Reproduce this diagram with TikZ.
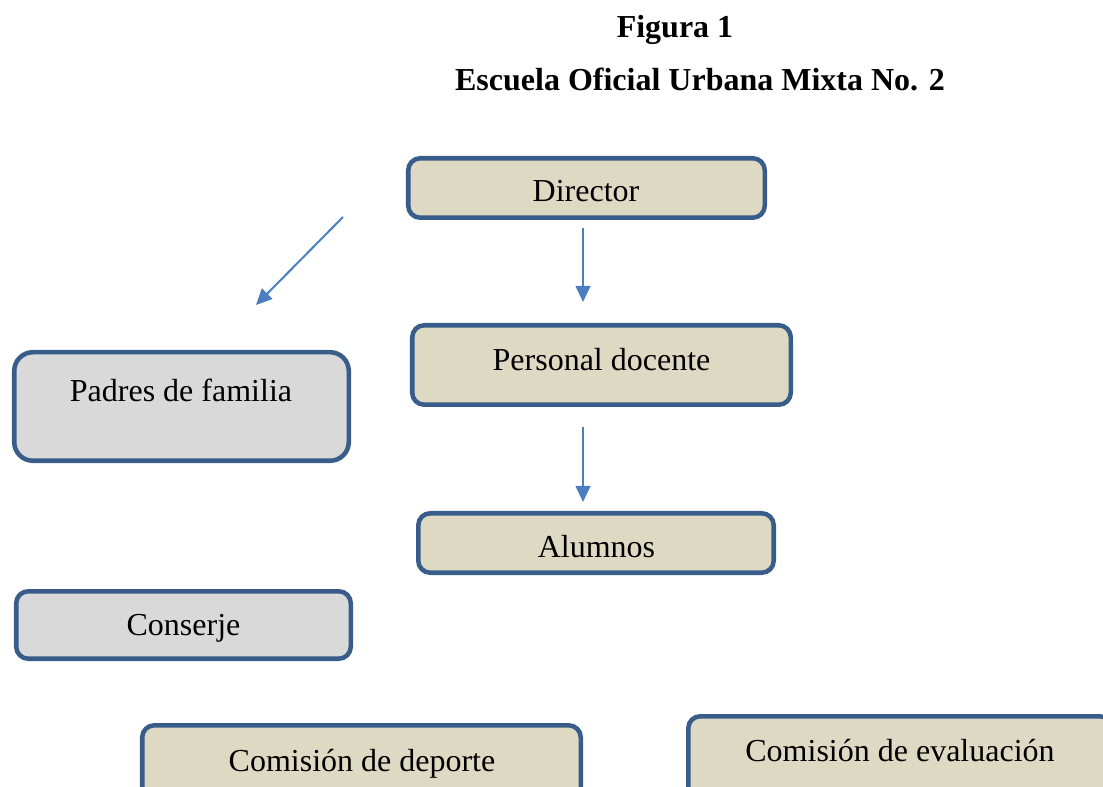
\documentclass[tikz,border=0pt]{standalone}
\usepackage{fontspec}
\setmainfont{Liberation Serif}
\usetikzlibrary{arrows.meta}
\definecolor{bordc}{RGB}{56,93,138}
\definecolor{tanfill}{RGB}{221,217,195}
\definecolor{grayfill}{RGB}{217,217,217}
\definecolor{arrc}{RGB}{74,126,193}
\tikzset{
  orgbox/.style={draw=bordc, line width=3.4pt, rounded corners=9pt, inner sep=0pt},
  tanbox/.style={orgbox, fill=tanfill},
  graybox/.style={orgbox, fill=grayfill},
  lbl/.style={anchor=base, inner sep=0pt, font=\fontsize{24}{28}\selectfont},
  ttl/.style={anchor=base, inner sep=0pt, font=\fontsize{24}{28}\selectfont\bfseries},
  conn/.style={draw=arrc, line width=1.5pt, -{Triangle[length=12pt,width=11pt]}}
}
\begin{document}
\begin{tikzpicture}[x=0.75pt,y=-0.75pt]
\useasboundingbox (0,0) rectangle (1103,787);
% titles
\node[ttl] (fig) at (675,38) {Figura 1};
\node[ttl] (esc) at (700,91) {Escuela Oficial Urbana Mixta No. 2};
% boxes
\node[tanbox, minimum width=267.4pt, minimum height=44.6pt] (dir) at (586.5,188) {};
\node[tanbox, minimum width=283.9pt, minimum height=59.6pt] (doc) at (601.5,365) {};
\node[graybox, minimum width=250.9pt, minimum height=81.4pt, rounded corners=14pt] (pad) at (181.5,406.5) {};
\node[tanbox, minimum width=266.6pt, minimum height=44.6pt] (alu) at (596,543) {};
\node[graybox, minimum width=250.9pt, minimum height=50.6pt] (con) at (183.5,625) {};
\node[tanbox, minimum width=328.9pt, minimum height=58pt] (dep) at (361.5,764) {};
\node[tanbox, minimum width=317.6pt, minimum height=65.6pt] (eva) at (900,760) {};
% labels
\node[lbl] (dirT) at (586,202) {Director};
\node[lbl] (docT) at (601.5,371) {Personal docente};
\node[lbl] (padT) at (181,402) {Padres de familia};
\node[lbl] (aluT) at (596.5,557) {Alumnos};
\node[lbl] (conT) at (183.5,635) {Conserje};
\node[lbl] (depT) at (362,771) {Comisión de deporte};
\node[lbl] (evaT) at (900,761) {Comisión de evaluación};
% arrow ends
\coordinate (a1s) at (343,217);
\coordinate (a1e) at (256,305);
\coordinate (a2s) at (583,228);
\coordinate (a2e) at (583,302);
\coordinate (a3s) at (583,427);
\coordinate (a3e) at (583,502);
\draw[conn] (a1s) -- (a1e);
\draw[conn] (a2s) -- (a2e);
\draw[conn] (a3s) -- (a3e);
\end{tikzpicture}
\end{document}
